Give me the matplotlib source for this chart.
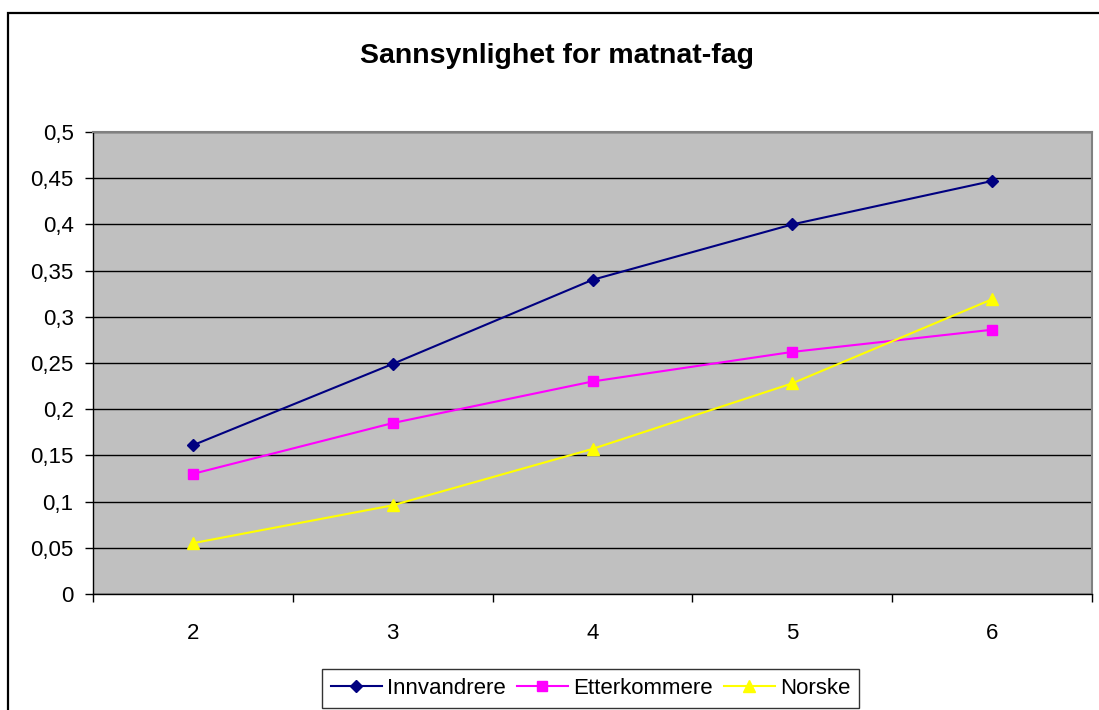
import matplotlib.pyplot as plt
from matplotlib.patches import Rectangle

plt.rcParams['font.family'] = ['Liberation Sans', 'DejaVu Sans']

categories = [2, 3, 4, 5, 6]
innvandrere = [0.161, 0.249, 0.340, 0.400, 0.447]
etterkommere = [0.130, 0.185, 0.230, 0.262, 0.286]
norske = [0.055, 0.096, 0.157, 0.228, 0.319]
yticks = [0, 0.05, 0.1, 0.15, 0.2, 0.25, 0.3, 0.35, 0.4, 0.45, 0.5]
ytick_labels = ['0', '0,05', '0,1', '0,15', '0,2', '0,25', '0,3', '0,35', '0,4', '0,45', '0,5']

W, H = 1099, 710
fig = plt.figure(figsize=(W / 100, H / 100), dpi=100)
ax = fig.add_axes([93 / W, (H - 594) / H, 999 / W, 462 / H])
ax.set_facecolor('#C0C0C0')

# outer chart frame (cropped at right and bottom)
fig.patches.append(Rectangle((8 / W, -0.1), 1.2, (H - 13) / H + 0.1,
                             transform=fig.transFigure, fill=False,
                             edgecolor='black', linewidth=1.6, clip_on=False))

ax.plot(categories, innvandrere, color='#000080', marker='D', markersize=6.5,
        linewidth=1.5, label='Innvandrere')
ax.plot(categories, etterkommere, color='#FF00FF', marker='s', markersize=6.5,
        linewidth=1.5, label='Etterkommere')
ax.plot(categories, norske, color='#FFFF00', marker='^', markersize=8,
        linewidth=1.5, label='Norske')

ax.set_xlim(1.5, 6.5)
ax.set_ylim(0, 0.5)
ax.set_yticks(yticks)
ax.set_yticklabels(ytick_labels)
ax.set_xticks(categories)
ax.set_xticks([1.5, 2.5, 3.5, 4.5, 5.5, 6.5], minor=True)
ax.tick_params(axis='x', which='major', length=0, pad=21, labelsize=16)
ax.tick_params(axis='x', which='minor', length=6, width=1, direction='out')
ax.tick_params(axis='y', length=6, width=1, direction='out', labelsize=16, pad=8)
ax.yaxis.grid(True, color='black', linewidth=1)
ax.set_axisbelow(True)

for side in ['top', 'right']:
    ax.spines[side].set_color('#808080')
    ax.spines[side].set_linewidth(1.5)
for side in ['left', 'bottom']:
    ax.spines[side].set_color('black')
    ax.spines[side].set_linewidth(1)

fig.text(557 / W, 1 - 56 / H, 'Sannsynlighet for matnat-fag', ha='center',
         va='center', fontsize=20.5, fontweight='bold')

leg = fig.legend(loc='upper center', bbox_to_anchor=(590.5 / W, 1 - 669 / H), ncol=3,
                 frameon=True, fancybox=False, edgecolor='black', fontsize=16,
                 handlelength=2.3, handletextpad=0.23, columnspacing=0.5,
                 borderpad=0.4, borderaxespad=0)
leg.get_frame().set_linewidth(1)

fig.savefig('out.png', dpi=100)
